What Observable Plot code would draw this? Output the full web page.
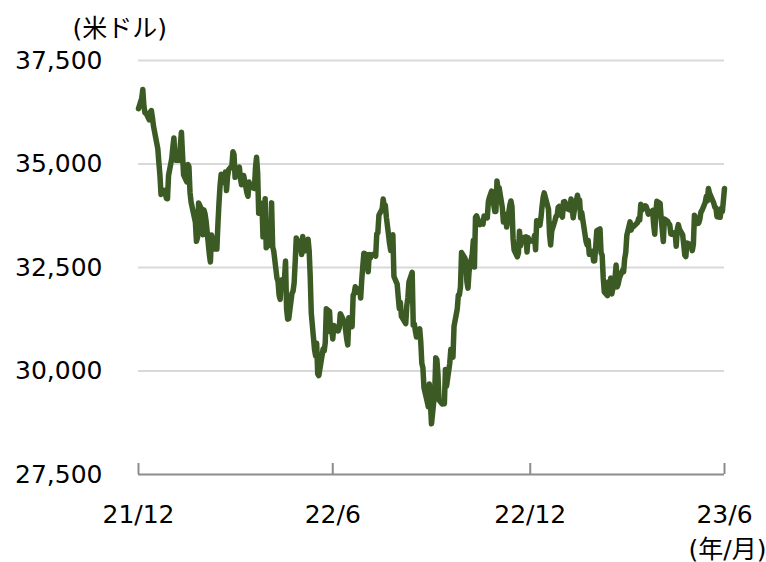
<!DOCTYPE html>
<html><head><meta charset="utf-8">
<script src="https://cdn.jsdelivr.net/npm/d3@7"></script>
<script src="https://cdn.jsdelivr.net/npm/@observablehq/plot@0.6"></script>
<style>body{margin:0;background:#fff;}</style>
</head><body><div id="chart"></div>
<script>
// Daily closes [day, value] by month
const m2112 = [[31,36338]];
const m2201 = [[3,36585],[4,36799],[5,36408],[6,36236],[7,36231],[10,36068],[11,36252],[12,36290],[13,36113],[14,35912],[18,35368],[19,35029],[20,34715],[21,34265],[24,34365],[25,34298],[26,34168],[27,34160],[28,34725],[31,35132]];
const m2202 = [[1,35405],[2,35630],[3,35111],[4,35089],[7,35091],[8,35463],[9,35768],[10,35242],[11,34738],[14,34566],[15,34989],[16,34934],[17,34312],[18,34079],[22,33597],[23,33132],[24,33224],[25,34059],[28,33893]];
const m2203 = [[1,33294],[2,33891],[3,33795],[4,33615],[7,32818],[8,32633],[9,33286],[10,33174],[11,32945],[14,32945],[15,33545],[16,34063],[17,34481],[18,34755],[21,34553],[22,34808],[23,34359],[24,34708],[25,34862],[28,34956],[29,35294],[30,35229],[31,34678]];
const m2204 = [[1,34818],[4,34922],[5,34641],[6,34497],[7,34584],[8,34721],[11,34308],[12,34220],[13,34565],[14,34451],[18,34412],[19,34911],[20,35161],[21,34793],[22,33811],[25,34049],[26,33240],[27,33302],[28,34160],[29,32977]];
const m2205 = [[2,33062],[3,33129],[4,34061],[5,32998],[6,32899],[9,32246],[10,32161],[11,31834],[12,31730],[13,32197],[16,32223],[17,32655],[18,31490],[19,31253],[20,31262],[23,31880],[24,31929],[25,32120],[26,32637],[27,33213],[31,32990]];
const m2206 = [[1,32813],[2,33248],[3,32900],[6,32916],[7,33180],[8,32911],[9,32273],[10,31393],[13,30517],[14,30365],[15,30669],[16,29927],[17,29889],[21,30530],[22,30484],[23,30677],[24,31501],[27,31439],[28,30947],[29,31029],[30,30775]];
const m2207 = [[1,31097],[5,30968],[6,31037],[7,31385],[8,31338],[11,31174],[12,30982],[13,30773],[14,30630],[15,31288],[18,31073],[19,31827],[20,31875],[21,32036],[22,31899],[25,31990],[26,31761],[27,32197],[28,32529],[29,32845]];
const m2208 = [[1,32798],[2,32397],[3,32812],[4,32727],[5,32803],[8,32833],[9,32775],[10,33310],[11,33336],[12,33761],[15,33913],[16,34152],[17,33981],[18,33999],[19,33707],[22,33064],[23,32910],[24,32970],[25,33292],[26,32283],[29,32099],[30,31791],[31,31510]];
const m2209 = [[1,31656],[2,31318],[6,31146],[7,31581],[8,31775],[9,32152],[12,32381],[13,31105],[14,31135],[15,30962],[16,30822],[19,31020],[20,30706],[21,30184],[22,30077],[23,29590],[26,29261],[27,29135],[28,29684],[29,29226],[30,28726]];
const m2210 = [[3,29490],[4,30317],[5,30274],[6,29927],[7,29297],[10,29203],[11,29240],[12,29211],[13,30039],[14,29635],[17,30186],[18,30524],[19,30424],[20,30334],[21,31083],[24,31500],[25,31837],[26,31839],[27,32034],[28,32861],[31,32733]];
const m2211 = [[1,32653],[2,32148],[3,32001],[4,32403],[7,32827],[8,33161],[9,32514],[10,33716],[11,33748],[14,33537],[15,33593],[16,33553],[17,33547],[18,33746],[21,33700],[22,34098],[23,34195],[25,34347],[28,33850],[29,33853],[30,34590]];
const m2212 = [[1,34395],[2,34430],[5,33947],[6,33597],[7,33598],[8,33781],[9,33477],[12,34005],[13,34108],[14,33966],[15,33203],[16,32920],[19,32758],[20,32850],[21,33377],[22,33027],[23,33204],[27,33241],[28,32876],[29,33221],[30,33147]];
const m2301 = [[3,33136],[4,33270],[5,32930],[6,33631],[9,33518],[10,33704],[11,33974],[12,34190],[13,34303],[17,33911],[18,33297],[19,33045],[20,33375],[23,33630],[24,33734],[25,33744],[26,33950],[27,33978],[30,33717],[31,34086]];
const m2302 = [[1,34093],[2,34054],[3,33926],[6,33891],[7,34156],[8,33950],[9,33699],[10,33869],[13,34246],[14,34089],[15,34128],[16,33697],[17,33827],[21,33130],[22,33045],[23,33154],[24,32817],[27,32889],[28,32657]];
const m2303 = [[1,32662],[2,33004],[3,33391],[6,33432],[7,32856],[8,32798],[9,32255],[10,31910],[13,31820],[14,32155],[15,31875],[16,32247],[17,31862],[20,32245],[21,32560],[22,32030],[23,32106],[24,32238],[27,32433],[28,32395],[29,32718],[30,32860],[31,33274]];
const m2304 = [[3,33601],[4,33403],[5,33483],[6,33486],[10,33587],[11,33685],[12,33647],[13,34030],[14,33886],[17,33988],[18,33977],[19,33897],[20,33787],[21,33809],[24,33876],[25,33531],[26,33302],[27,33827],[28,34098]];
const m2305 = [[1,34051],[2,33684],[3,33415],[4,33128],[5,33674],[8,33619],[9,33562],[10,33532],[11,33310],[12,33301],[15,33349],[16,33013],[17,33421],[18,33536],[19,33427],[22,33287],[23,33056],[24,32800],[25,32765],[26,33093],[30,33043],[31,32908]];
const m2306 = [[1,33061],[2,33763],[5,33563],[6,33573],[7,33665],[8,33834],[9,33877],[12,34066],[13,34212],[14,34108],[15,34408],[16,34299],[20,34054],[21,33952],[22,33946],[23,33727],[26,33714],[27,33927],[28,33853],[29,34122],[30,34408]];

const yTicks = [27500, 30000, 32500, 35000, 37500];
const xTickDates = ["2021-12-31", "2022-06-30", "2022-12-31", "2023-06-30"];
const xTickLabels = ["21/12", "22/6", "22/12", "23/6"];
const yUnit = "(米ドル)";
const xUnit = "(年/月)";

const monthList = [
  [2021,12,m2112],[2022,1,m2201],[2022,2,m2202],[2022,3,m2203],[2022,4,m2204],[2022,5,m2205],[2022,6,m2206],
  [2022,7,m2207],[2022,8,m2208],[2022,9,m2209],[2022,10,m2210],[2022,11,m2211],[2022,12,m2212],
  [2023,1,m2301],[2023,2,m2302],[2023,3,m2303],[2023,4,m2304],[2023,5,m2305],[2023,6,m2306]
];
const data = monthList.flatMap(([y, m, arr]) => arr.map(([d, v]) => ({date: new Date(Date.UTC(y, m - 1, d)), close: v})));
const tickDates = xTickDates.map(s => new Date(s + "T00:00:00Z"));
const labelMap = new Map(tickDates.map((d, i) => [+d, xTickLabels[i]]));

const chart = Plot.plot({
  width: 766, height: 562,
  marginLeft: 138, marginRight: 42, marginTop: 60, marginBottom: 88,
  style: {fontFamily: "'DejaVu Sans', 'Noto Sans CJK JP', sans-serif", fontSize: "25px", color: "#000", background: "#fff", overflow: "visible"},
  x: {type: "utc", domain: [tickDates[0], tickDates[tickDates.length - 1]]},
  y: {domain: [yTicks[0], yTicks[yTicks.length - 1]]},
  marks: [
    Plot.ruleY(yTicks.slice(1), {stroke: "#d9d9d9", strokeWidth: 2}),
    Plot.ruleY([yTicks[0]], {stroke: "#8c8c8c", strokeWidth: 2}),
    Plot.tickX(tickDates, {x: d => d, insetTop: 403, stroke: "#8c8c8c", strokeWidth: 2}),
    Plot.axisY({ticks: yTicks, tickSize: 0, tickPadding: 36, tickFormat: d3.format(","), fontSize: 25, label: null}),
    Plot.axisX({ticks: tickDates, tickSize: 0, tickPadding: 31, tickFormat: d => labelMap.get(+d), fontSize: 25, label: null}),
    Plot.lineY(data, {x: "date", y: "close", stroke: "#3b5a24", strokeWidth: 5.5, strokeLinejoin: "round", strokeLinecap: "round"}),
    Plot.text([yUnit], {text: d => d, frameAnchor: "top-left", dx: -66, dy: -41, textAnchor: "start", fontSize: 25}),
    Plot.text([xUnit], {text: d => d, frameAnchor: "bottom-right", dx: 42, dy: 83, textAnchor: "end", fontSize: 25})
  ]
});
document.getElementById("chart").appendChild(chart);
</script>
</body></html>
